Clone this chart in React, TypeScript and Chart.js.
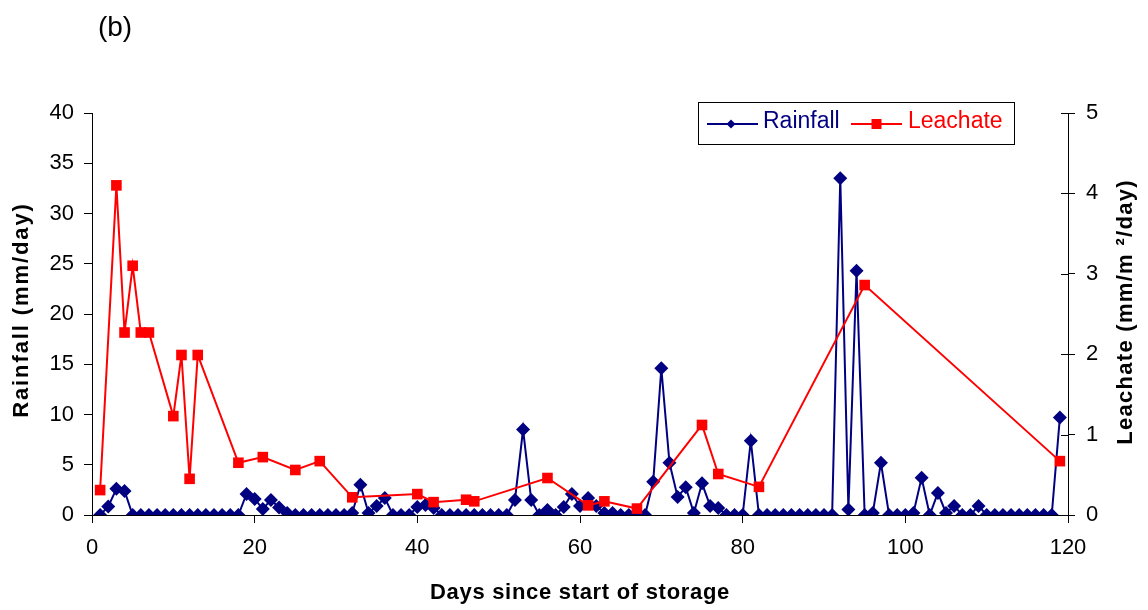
import React, { useEffect, useRef } from "react";
import { Chart, registerables } from "chart.js";

Chart.register(...registerables);

const FONT = "'Liberation Sans', Arial, Helvetica, sans-serif";

// Daily rainfall (mm/day), one value per day starting at day 1
const rainfall = [
  0, 0.85, 2.6, 2.4, 0, 0, 0, 0, 0, 0,
  0, 0, 0, 0, 0, 0, 0, 0, 2.1, 1.6,
  0.6, 1.5, 0.75, 0.2, 0, 0, 0, 0, 0, 0,
  0, 0.2, 3.0, 0.2, 0.9, 1.7, 0, 0, 0, 0.8,
  1.0, 0.7, 0, 0, 0, 0, 0, 0, 0, 0,
  0, 1.5, 8.5, 1.5, 0, 0.5, 0, 0.8, 2.1, 0.9,
  1.7, 0.9, 0.2, 0.2, 0, 0, 0, 0, 3.3, 14.6,
  5.2, 1.8, 2.75, 0.2, 3.15, 0.9, 0.7, 0, 0, 0,
  7.4, 0, 0, 0, 0, 0, 0, 0, 0, 0,
  0, 33.5, 0.55, 24.3, 0, 0.2, 5.2, 0, 0, 0,
  0.2, 3.7, 0, 2.2, 0.2, 0.9, 0, 0, 0.9, 0,
  0, 0, 0, 0, 0, 0, 0, 0, 9.7,
];
const rainfallDays = rainfall.map((_, i) => i + 1);

// Leachate (mm/m²/day) on sampling days
const leachateDays = [1, 3, 4, 5, 6, 7, 10, 11, 12, 13, 18, 21, 25, 28, 32, 40, 42, 46, 47, 56, 61, 63, 67, 75, 77, 82, 95, 119];
const leachate = [0.31, 4.1, 2.27, 3.1, 2.27, 2.27, 1.23, 1.99, 0.45, 1.99, 0.65, 0.72, 0.56, 0.67, 0.22, 0.26, 0.16, 0.19, 0.17, 0.46, 0.12, 0.17, 0.08, 1.12, 0.51, 0.35, 2.86, 0.67];

const dayTicks = [0, 20, 40, 60, 80, 100, 120];
const rainTicks = [0, 5, 10, 15, 20, 25, 30, 35, 40];
const leachTicks = [0, 1, 2, 3, 4, 5];

const RAIN_COLOR = "#000080";
const LEACH_COLOR = "#FF0000";

function spacedText(ctx: any, text: string, x: number, y: number, spacing: number) {
  ctx.letterSpacing = `${spacing}px`;
  ctx.fillText(text, x, y);
  ctx.letterSpacing = "0px";
}

const decorations = {
  id: "decorations",
  afterDraw(chart: any) {
    const ctx = chart.ctx as CanvasRenderingContext2D;
    const area = chart.chartArea;
    const yR = chart.scales.yLeach;
    ctx.save();

    // right axis: tick marks also cross into the plot
    ctx.strokeStyle = "#000";
    ctx.lineWidth = 1;
    for (const v of leachTicks) {
      const y = Math.round(yR.getPixelForValue(v)) + 0.5;
      ctx.beginPath();
      ctx.moveTo(area.right - 7, y);
      ctx.lineTo(area.right, y);
      ctx.stroke();
    }

    // panel label
    ctx.fillStyle = "#000";
    ctx.font = `28px ${FONT}`;
    ctx.textAlign = "center";
    ctx.textBaseline = "middle";
    ctx.fillText("(b)", 115, 28);

    // axis titles
    ctx.font = `bold 22px ${FONT}`;
    spacedText(ctx, "Days since start of storage", (area.left + area.right) / 2, 593, 0.7);

    ctx.save();
    ctx.translate(22, 310);
    ctx.rotate(-Math.PI / 2);
    spacedText(ctx, "Rainfall (mm/day)", 0, 0, 1.9);
    ctx.restore();

    ctx.save();
    ctx.translate(1126, 312);
    ctx.rotate(-Math.PI / 2);
    spacedText(ctx, "Leachate (mm/m \u00B2/day)", 0, 0, 1.3);
    ctx.restore();

    // legend box
    const bx = 698.5, by = 102.5, bw = 316, bh = 42;
    ctx.fillStyle = "#fff";
    ctx.fillRect(bx, by, bw, bh);
    ctx.strokeStyle = "#000";
    ctx.lineWidth = 1;
    ctx.strokeRect(bx, by, bw, bh);

    const ly = 124;
    ctx.lineWidth = 2;
    // rainfall entry
    ctx.strokeStyle = RAIN_COLOR;
    ctx.beginPath();
    ctx.moveTo(707, ly);
    ctx.lineTo(758, ly);
    ctx.stroke();
    ctx.fillStyle = RAIN_COLOR;
    ctx.beginPath();
    ctx.moveTo(731 - 4.5, ly);
    ctx.lineTo(731, ly - 4.5);
    ctx.lineTo(731 + 4.5, ly);
    ctx.lineTo(731, ly + 4.5);
    ctx.closePath();
    ctx.fill();
    ctx.font = `23px ${FONT}`;
    ctx.textAlign = "left";
    ctx.textBaseline = "middle";
    ctx.fillText("Rainfall", 763, ly - 2);

    // leachate entry
    ctx.strokeStyle = LEACH_COLOR;
    ctx.beginPath();
    ctx.moveTo(851, ly);
    ctx.lineTo(902, ly);
    ctx.stroke();
    ctx.fillStyle = LEACH_COLOR;
    ctx.fillRect(876.5 - 5, ly - 5, 10, 10);
    ctx.fillText("Leachate", 908, ly - 2);

    ctx.restore();
  },
};

export default function App() {
  const canvasRef = useRef<HTMLCanvasElement | null>(null);

  useEffect(() => {
    document.body.style.margin = "0";
    const canvas = canvasRef.current;
    if (!canvas) return;

    const chart = new Chart(canvas, {
      type: "line",
      data: {
        datasets: [
          {
            label: "Leachate",
            data: leachateDays.map((d, i) => ({ x: d, y: leachate[i] })),
            yAxisID: "yLeach",
            borderColor: LEACH_COLOR,
            backgroundColor: LEACH_COLOR,
            borderWidth: 2,
            pointStyle: "rect",
            pointRadius: 7.5,
            pointBorderWidth: 0,
            tension: 0,
            order: 0,
          },
          {
            label: "Rainfall",
            data: rainfallDays.map((d, i) => ({ x: d, y: rainfall[i] })),
            yAxisID: "yRain",
            borderColor: RAIN_COLOR,
            backgroundColor: RAIN_COLOR,
            borderWidth: 2,
            pointStyle: "rectRot",
            pointRadius: 7,
            pointBorderWidth: 0,
            tension: 0,
            order: 1,
          },
        ],
      },
      options: {
        responsive: false,
        animation: false,
        layout: { padding: { top: 113, left: 0, right: 0, bottom: 0 } },
        plugins: {
          legend: { display: false },
          tooltip: { enabled: false },
        },
        scales: {
          x: {
            type: "linear",
            min: 0,
            max: 120,
            afterBuildTicks: (s: any) => {
              s.ticks = dayTicks.map((v) => ({ value: v }));
            },
            afterFit: (s: any) => {
              s.height = 95;
            },
            grid: { display: true, drawOnChartArea: false, drawTicks: true, tickLength: 8, color: "#000" },
            border: { display: true, color: "#000", width: 1 },
            ticks: { color: "#000", font: { family: FONT, size: 22 }, padding: 12, maxRotation: 0 },
          },
          yRain: {
            type: "linear",
            position: "left",
            min: 0,
            max: 40,
            afterBuildTicks: (s: any) => {
              s.ticks = rainTicks.map((v) => ({ value: v }));
            },
            afterFit: (s: any) => {
              s.width = 92;
            },
            grid: { display: true, drawOnChartArea: false, drawTicks: true, tickLength: 8, color: "#000" },
            border: { display: true, color: "#000", width: 1 },
            ticks: { color: "#000", font: { family: FONT, size: 22 }, padding: 10 },
          },
          yLeach: {
            type: "linear",
            position: "right",
            min: 0,
            max: 5,
            afterBuildTicks: (s: any) => {
              s.ticks = leachTicks.map((v) => ({ value: v }));
            },
            afterFit: (s: any) => {
              s.width = 80;
            },
            grid: { display: true, drawOnChartArea: false, drawTicks: true, tickLength: 7, color: "#000" },
            border: { display: true, color: "#000", width: 1 },
            ticks: { color: "#000", font: { family: FONT, size: 22 }, padding: 11 },
          },
        },
      },
      plugins: [decorations],
    } as any);

    return () => {
      chart.destroy();
    };
  }, []);

  return (
    <div style={{ width: 1148, height: 610, background: "#fff" }}>
      <canvas ref={canvasRef} width={1148} height={610} style={{ display: "block" }} />
    </div>
  );
}
